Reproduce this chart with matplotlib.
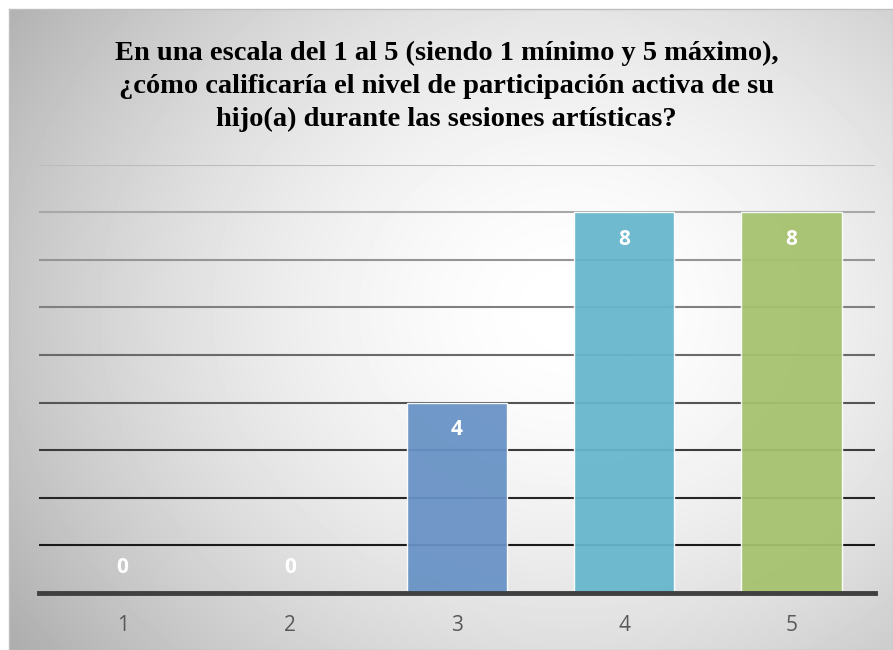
import matplotlib.pyplot as plt
import numpy as np

# datos del gráfico
categorias = ['1', '2', '3', '4', '5']
valores = [0, 0, 4, 8, 8]
colores = ['#6892c5', '#6892c5', '#6892c5', '#66b6cc', '#a5c26d']
titulo = ('En una escala del 1 al 5 (siendo 1 mínimo y 5 máximo),\n'
          '¿cómo calificaría el nivel de participación activa de su\n'
          'hijo(a) durante las sesiones artísticas?')

fig = plt.figure(figsize=(8.93, 6.5), dpi=100)

#%%
# fondo con degradado radial
bg = fig.add_axes([9/893, 0, 1 - 9/893, 1 - 9/650])
w, h = 884, 641
yy, xx = np.mgrid[0:h, 0:w]
cx, cy = 560, 300
r = np.sqrt(((xx - cx) / 620) ** 2 + ((yy - cy) / 520) ** 2)
gris = 1 - 0.27 * np.clip(r, 0, 1.2) ** 1.7
bg.imshow(gris, cmap='gray', vmin=0, vmax=1, aspect='auto', interpolation='bilinear')
bg.set_xticks([])
bg.set_yticks([])
for s in bg.spines.values():
    s.set_color('#bfbfbf')
    s.set_linewidth(1)

#%%
# barras
ax = fig.add_axes([39/893, 1 - 593/650, (875 - 39)/893, (593 - 164.7)/650])
ax.patch.set_alpha(0)
x = np.arange(1, len(categorias) + 1)
ax.bar(x, valores, width=0.6, color=colores, alpha=0.94,
       edgecolor=(1, 1, 1, 0.5), linewidth=1, zorder=3)

ax.set_xlim(0.5, 5.5)
ax.set_ylim(0, 9)
ax.set_yticks(np.arange(1, 10))
ax.yaxis.grid(True, linewidth=1.5, zorder=0)
grid_cols = ['#1a1a1a', '#262626', '#3c3c3c', '#555555', '#6a6a6a',
             '#808080', '#959595', '#a8a8a8', '#bcbcbc']
for gl, c in zip(ax.get_ygridlines(), grid_cols):
    gl.set_color(c)
ax.tick_params(axis='y', length=0, labelleft=False)
ax.set_xticks(x)
ax.set_xticklabels(categorias, fontsize=15, color='#595959', family='Open Sans')
ax.tick_params(axis='x', length=0, pad=16)
for s in ['top', 'right', 'left']:
    ax.spines[s].set_visible(False)
ax.spines['bottom'].set_color('#404040')
ax.spines['bottom'].set_linewidth(3.5)
ax.spines['bottom'].set_zorder(4)

# etiquetas de datos
for xi, v in zip(x, valores):
    off = -19.5 if v > 0 else 18.5
    ax.annotate(str(v), (xi, v), xytext=(0, off), textcoords='offset points',
                ha='center', va='center', color='white', fontsize=15,
                fontweight='bold', family='Open Sans', zorder=5)

fig.text(0.5, 1 - 41/650, titulo, ha='center', va='top', fontsize=20.5,
         fontweight='bold', family='Liberation Serif', linespacing=1.42)

plt.savefig('out.png', dpi=100)
